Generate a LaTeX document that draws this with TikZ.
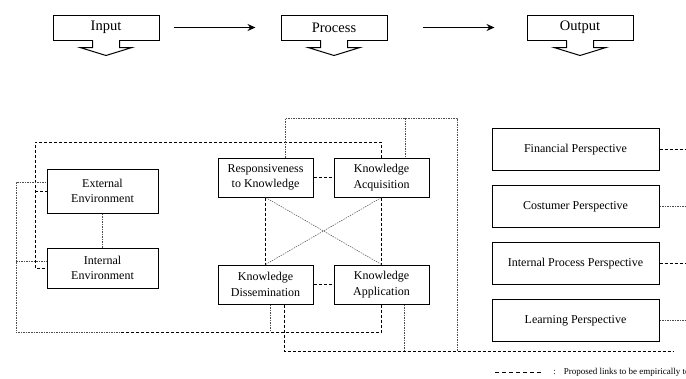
\documentclass[tikz,border=0pt]{standalone}
\usepackage{fontspec}
\setmainfont{Liberation Serif}
\usetikzlibrary{arrows.meta, positioning}

\begin{document}
\begin{tikzpicture}[
            x = 1pt, y = -1pt, % pixel units, y grows downward
            > = {Stealth[length=8pt, width=7pt]}, % arrow head style
            semithick % line style
        ]

        \tikzstyle{stage}=[
            draw = black,
            line width = 1pt,
            minimum width = 106pt,
            minimum height = 25pt,
            font = \fontsize{14.5}{16}\selectfont
        ]
        \tikzstyle{block}=[
            draw = black,
            line width = 1pt,
            align = center,
            inner sep = 2pt,
            font = \fontsize{12}{15.5}\selectfont
        ]
        \tikzstyle{kbox}=[block, minimum width = 95pt, minimum height = 39pt]
        \tikzstyle{pbox}=[block, minimum width = 167pt, minimum height = 42pt]
        \tikzstyle{link}=[line width = 0.8pt, dash pattern = on 3pt off 2pt]
        \tikzstyle{weak link}=[line width = 0.5pt, gray!60!black, dash pattern = on 1.5pt off 1pt]

        \path[use as bounding box] (0,0) rectangle (686,378);
        \clip (0,0) rectangle (686,378);

        % input - process - output
        \node[stage] (input) at (106,27.5) {Input};
        \node[stage] (process) at (334,27.5) {Process};
        \node[stage] (output) at (580,27.5) {Output};

        \path[->, line width = 1.5pt] (input) edge [shorten <= 14pt, shorten >= 25pt] (process);
        \path[->, line width = 1.5pt] (process) edge [shorten <= 35pt, shorten >= 32pt] (output);

        \foreach \n in {input, process, output} {
            \draw[white, line width = 1.4pt] ([xshift=-13pt]\n.south) -- ([xshift=13pt]\n.south);
            \draw[line width = 1pt] ([xshift=-13.5pt]\n.south) -- ++(0,7) -- ++(-12.5,0)
                -- ++(26,8) -- ++(26,-8) -- ++(-12.5,0) -- ++(0,-7);
        }

        % boxes
        \node[block, minimum width = 111pt, minimum height = 44pt] (extenv) at (102.5,191) {External\\Environment};
        \node[block, minimum width = 111pt, minimum height = 40pt] (intenv) at (102.5,268) {Internal\\Environment};

        \node[kbox] (resp) at (265.5,177.5) {Responsiveness\\to Knowledge};
        \node[kbox] (acq) [right=20pt of resp] {Knowledge\\Acquisition};
        \node[kbox] (diss) [below=67pt of resp] {Knowledge\\Dissemination};
        \node[kbox] (app) [right=20pt of diss] {Knowledge\\Application};

        \node[pbox] (fin) at (575.5,149.5) {Financial Perspective};
        \node[pbox] (cust) [below=14pt of fin] {Costumer Perspective};
        \node[pbox] (intproc) [below=14pt of cust] {Internal Process Perspective};
        \node[pbox] (learn) [below=14pt of intproc] {Learning Perspective};

        % links inside the knowledge square
        \draw[link] (resp) -- (acq);
        \draw[link] (diss) -- (app);
        \draw[link] (resp) -- (diss);
        \draw[link] (acq) -- (app);
        \draw[weak link] (resp.south) -- (app.north);
        \draw[weak link] (diss.north) -- (acq.south);
        \draw[weak link] (extenv) -- (intenv);

        % environment to knowledge
        \draw[link] (acq.north) |- (35,142) |- (intenv.west);
        \draw[link] (35,191) -- (extenv.west);
        \draw[link] (app.south) |- (120,332);
        \draw[weak link] (120,332) -| (16,182) -- (extenv.west |- 0,182);
        \draw[weak link] (16,261) -- (intenv.west |- 0,261);
        \draw[weak link] (diss.south -| 270,0) -- (270,332);

        % knowledge to perspectives
        \draw[link] (diss.south -| 284,0) |- (673,351);
        \draw[weak link] (app.south -| 404,0) -- (404,351);
        \draw[weak link] (resp.north -| 285,0) |- (457,118) -- (457,351);
        \draw[weak link] (405,118) -- (acq.north -| 405,0);

        \draw[link] (fin.east) -- +(30,0);
        \draw[weak link] (cust.east) -- +(30,0);
        \draw[link] (intproc.east) -- +(30,0);
        \draw[weak link] (learn.east) -- +(30,0);

        % legend
        \coordinate (key) at (495,372);
        \draw[link, dash pattern = on 4pt off 3pt] (key) -- +(48,0);
        \node[anchor=west, inner sep=2pt, font=\fontsize{9}{11}\selectfont] (keytext) at (551,372)
            {:\hspace{8pt}Proposed links to be empirically tested};

    \end{tikzpicture}
\end{document}
